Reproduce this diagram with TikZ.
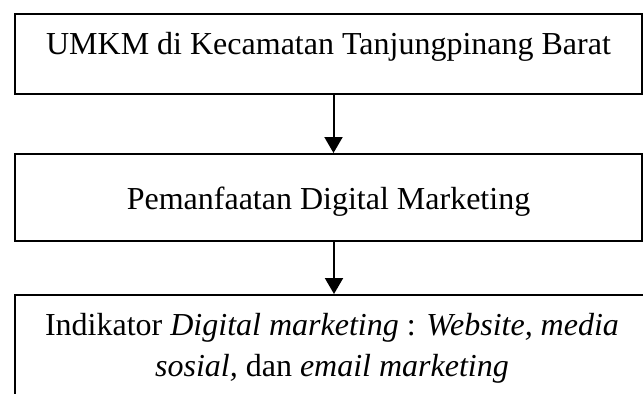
\documentclass[tikz,border=0pt]{standalone}
\usepackage{fontspec}
\setmainfont{Liberation Serif}
\usetikzlibrary{arrows.meta,positioning}

\begin{document}
\begin{tikzpicture}[
        kotak/.style={draw,line width=1pt,minimum width=313.5pt,inner ysep=0pt},
        panah/.style={-{Triangle[length=8pt,width=9pt]},line width=1pt},
        font=\fontsize{16pt}{20.5pt}\selectfont]
                \useasboundingbox (0,0) rectangle (321.5pt,-196.5pt);
                \clip (0,0) rectangle (321.5pt,-196.5pt);
                \node[kotak,anchor=north west,text height=20pt,text depth=20pt] (umkm) at (7pt,-6.5pt) {UMKM di Kecamatan Tanjungpinang Barat};
                \node[kotak,below=29pt of umkm,text height=27.5pt,text depth=16pt] (manfaat) {Pemanfaatan Digital Marketing};
                \node[kotak,below=26pt of manfaat.south west,anchor=north west,minimum width=317pt,minimum height=70pt] (indikator) {};
                \node[anchor=north,align=center,inner sep=0pt] (teks) at ([yshift=-9.6pt]indikator.north) {Indikator \textit{Digital marketing} : \textit{Website, media}\\ \textit{sosial,} dan \textit{email marketing}};
                \draw[panah] ([xshift=2.5pt]umkm.south) -- ([xshift=2.5pt]manfaat.north);
                \draw[panah] ([xshift=2.75pt]manfaat.south) -- ([xshift=2.75pt]manfaat.south |- indikator.north);
\end{tikzpicture}
\end{document}
